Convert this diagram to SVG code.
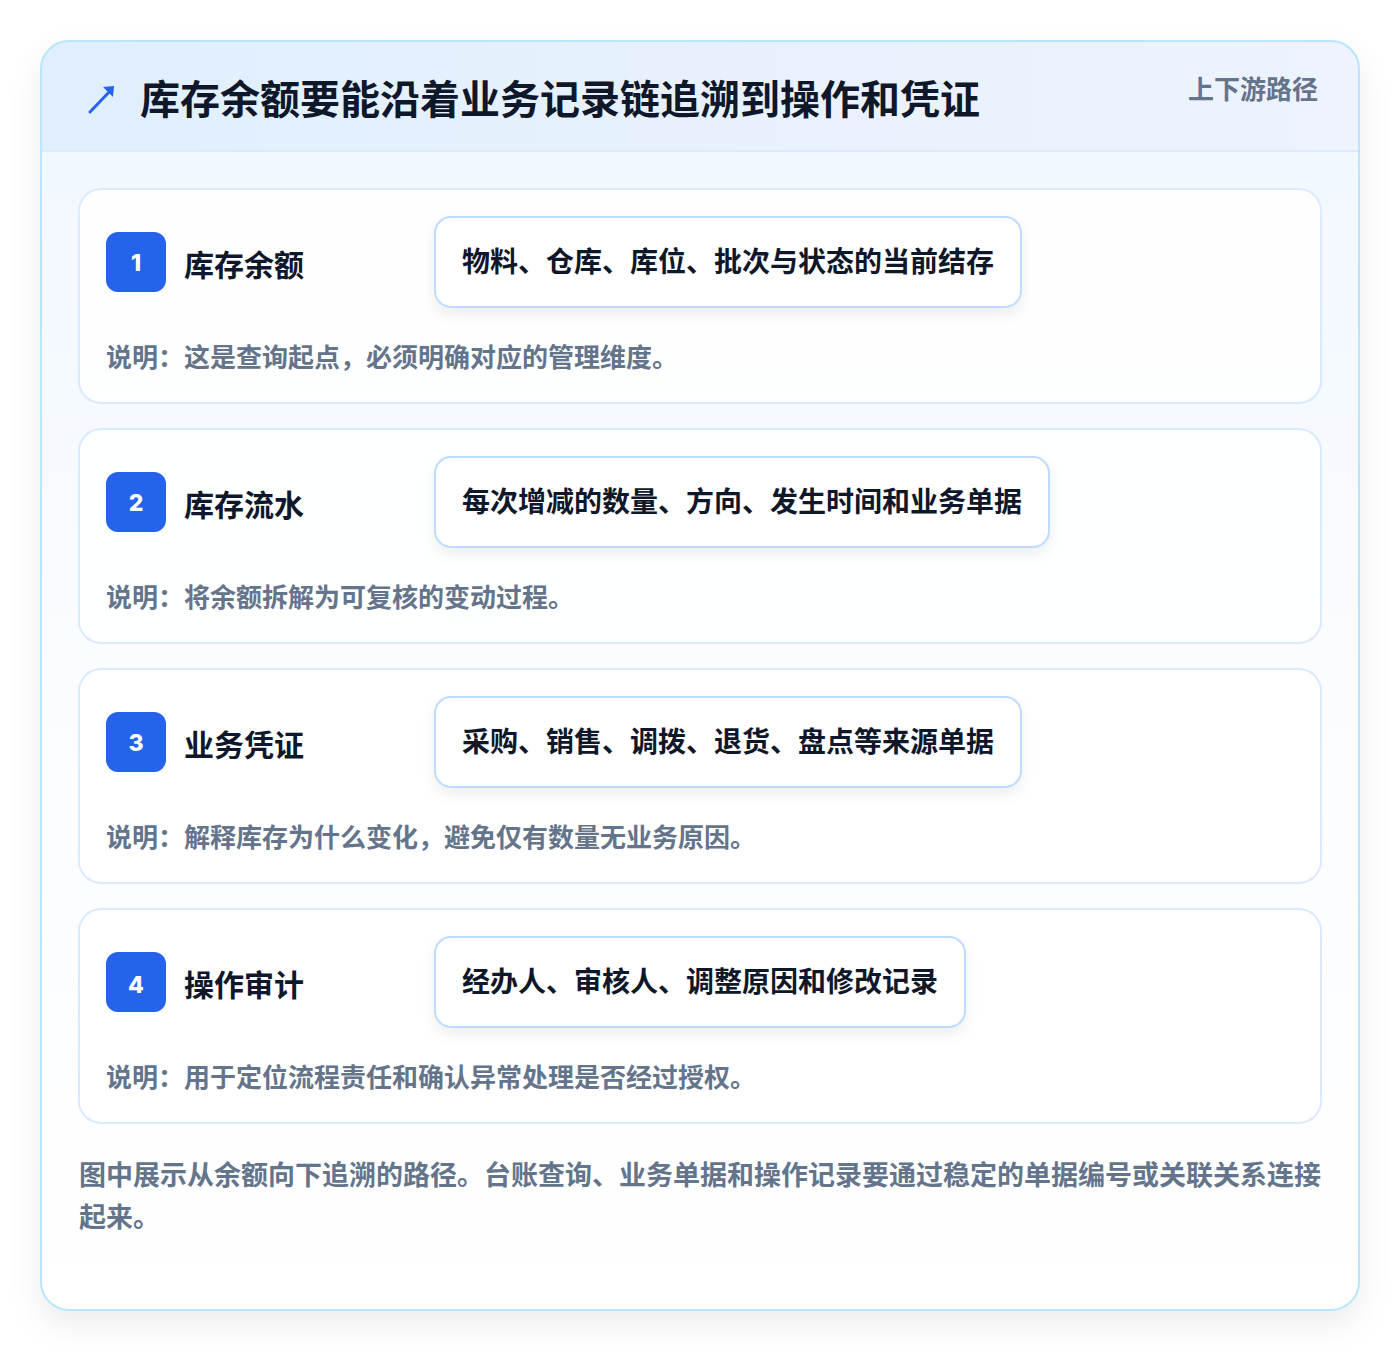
<svg xmlns="http://www.w3.org/2000/svg" width="1400" height="1352" viewBox="0 0 1400 1352">
<defs>
<linearGradient id="hdr" x1="0" y1="0" x2="1" y2="0">
<stop offset="0" stop-color="#e0effd"/>
<stop offset="1" stop-color="#eef3fe"/>
</linearGradient>
<linearGradient id="body" x1="0" y1="0" x2="0" y2="1">
<stop offset="0" stop-color="#f0f7ff"/>
<stop offset="0.5" stop-color="#fafcff"/>
<stop offset="1" stop-color="#ffffff"/>
</linearGradient>
<filter id="sh" x="-10%" y="-10%" width="120%" height="125%">
<feDropShadow dx="0" dy="14" stdDeviation="16" flood-color="#0f172a" flood-opacity="0.08"/>
</filter>
<filter id="psh" x="-10%" y="-20%" width="120%" height="150%">
<feDropShadow dx="0" dy="6" stdDeviation="7" flood-color="#0f172a" flood-opacity="0.07"/>
</filter>
<clipPath id="outerClip"><rect x="41" y="41" width="1318" height="1269" rx="28"/></clipPath>
</defs>
<style>
.txt{font-family:"Noto Sans CJK SC","Noto Sans",sans-serif;font-weight:700}
.title{font-size:40px;fill:#0f172a}
.tag{font-size:26px;fill:#64748b}
.card{fill:#ffffff;fill-opacity:0.85;stroke:#dbeafe;stroke-width:2}
.badge{fill:#2563eb}
.num{font-size:23px;fill:#ffffff;font-family:"Inter","Noto Sans",sans-serif;font-weight:800}
.name{font-size:30px;fill:#0f172a}
.pill{fill:#ffffff;stroke:#bfdbfe;stroke-width:2}
.ptxt{font-size:28px;fill:#0f172a}
.desc{font-size:26px;fill:#64748b}
.foot{font-size:27px;fill:#64748b}
</style>
<rect width="1400" height="1352" fill="#ffffff"/>
<g id="frame">
<rect x="41" y="41" width="1318" height="1269" rx="28" fill="url(#body)" filter="url(#sh)"/>
<g clip-path="url(#outerClip)">
<rect x="41" y="41" width="1318" height="110" fill="url(#hdr)"/>
<line x1="41" y1="151" x2="1359" y2="151" stroke="#dbeafe" stroke-width="2"/>
</g>
<rect x="41" y="41" width="1318" height="1269" rx="28" fill="none" stroke="#bae6fd" stroke-width="2"/>
</g>
<g id="header">
<path d="M90 112 L112 89" stroke="#2563eb" stroke-width="3" stroke-linecap="round" fill="none"/>
<path d="M103 87 L114 86 L113 97 Z" fill="#2563eb"/>
<text class="txt title" x="140" y="114">库存余额要能沿着业务记录链追溯到操作和凭证</text>
<text class="txt tag" x="1318" y="99" text-anchor="end">上下游路径</text>
</g>
<g id="connectors"></g>
<g id="step1">
<rect class="card" x="79" y="189" width="1242" height="214" rx="22"/>
<rect class="badge" x="106" y="232" width="60" height="60" rx="12"/>
<text class="num" x="136" y="271" text-anchor="middle">1</text>
<text class="txt name" x="184" y="276">库存余额</text>
<rect class="pill" x="435" y="217" width="586" height="90" rx="16" filter="url(#psh)"/>
<text class="txt ptxt" x="462" y="272">物料、仓库、库位、批次与状态的当前结存</text>
<text class="txt desc" x="106" y="367">说明：这是查询起点，必须明确对应的管理维度。</text>
</g>
<g id="step2">
<rect class="card" x="79" y="429" width="1242" height="214" rx="22"/>
<rect class="badge" x="106" y="472" width="60" height="60" rx="12"/>
<text class="num" x="136" y="511" text-anchor="middle">2</text>
<text class="txt name" x="184" y="516">库存流水</text>
<rect class="pill" x="435" y="457" width="614" height="90" rx="16" filter="url(#psh)"/>
<text class="txt ptxt" x="462" y="512">每次增减的数量、方向、发生时间和业务单据</text>
<text class="txt desc" x="106" y="607">说明：将余额拆解为可复核的变动过程。</text>
</g>
<g id="step3">
<rect class="card" x="79" y="669" width="1242" height="214" rx="22"/>
<rect class="badge" x="106" y="712" width="60" height="60" rx="12"/>
<text class="num" x="136" y="751" text-anchor="middle">3</text>
<text class="txt name" x="184" y="756">业务凭证</text>
<rect class="pill" x="435" y="697" width="586" height="90" rx="16" filter="url(#psh)"/>
<text class="txt ptxt" x="462" y="752">采购、销售、调拨、退货、盘点等来源单据</text>
<text class="txt desc" x="106" y="847">说明：解释库存为什么变化，避免仅有数量无业务原因。</text>
</g>
<g id="step4">
<rect class="card" x="79" y="909" width="1242" height="214" rx="22"/>
<rect class="badge" x="106" y="952" width="60" height="60" rx="12"/>
<text class="num" x="136" y="993" text-anchor="middle">4</text>
<text class="txt name" x="184" y="996">操作审计</text>
<rect class="pill" x="435" y="937" width="530" height="90" rx="16" filter="url(#psh)"/>
<text class="txt ptxt" x="462" y="992">经办人、审核人、调整原因和修改记录</text>
<text class="txt desc" x="106" y="1087">说明：用于定位流程责任和确认异常处理是否经过授权。</text>
</g>
<g id="footer">
<text class="txt foot" x="79" y="1185">图中展示从余额向下追溯的路径。台账查询、业务单据和操作记录要通过稳定的单据编号或关联关系连接</text>
<text class="txt foot" x="79" y="1227">起来。</text>
</g>
</svg>
